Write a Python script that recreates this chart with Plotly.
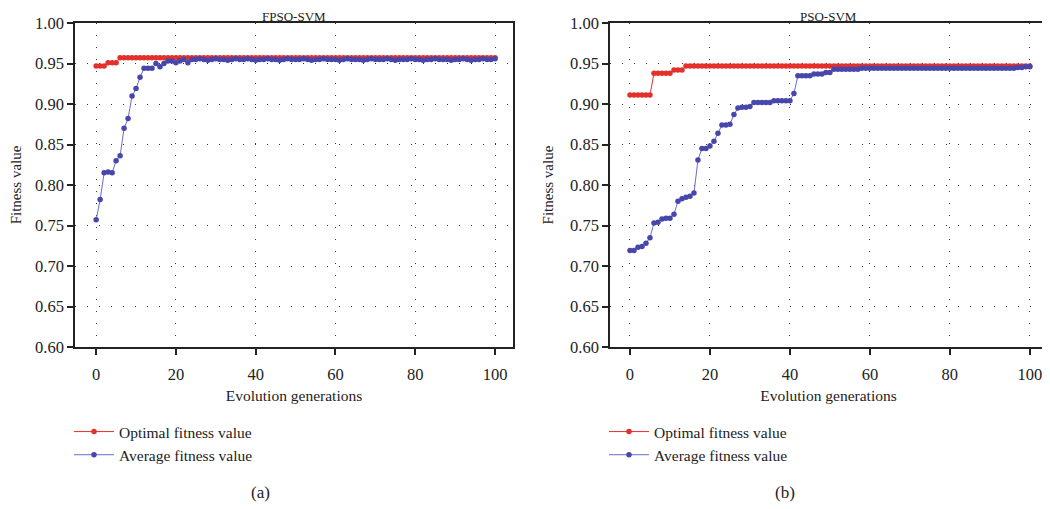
import plotly.graph_objects as go

gen = list(range(0, 101))

fpso_opt = [0.947, 0.947, 0.947, 0.951, 0.951, 0.951,
            0.957, 0.957, 0.957, 0.957, 0.957, 0.957, 0.957, 0.957, 0.957, 0.957,
            0.957, 0.957, 0.957, 0.957, 0.957, 0.957, 0.957, 0.957, 0.957, 0.957,
            0.957, 0.957, 0.957, 0.957, 0.957, 0.957, 0.957, 0.957, 0.957, 0.957,
            0.957, 0.957, 0.957, 0.957, 0.957, 0.957, 0.957, 0.957, 0.957, 0.957,
            0.957, 0.957, 0.957, 0.957, 0.957, 0.957, 0.957, 0.957, 0.957, 0.957,
            0.957, 0.957, 0.957, 0.957, 0.957, 0.957, 0.957, 0.957, 0.957, 0.957,
            0.957, 0.957, 0.957, 0.957, 0.957, 0.957, 0.957, 0.957, 0.957, 0.957,
            0.957, 0.957, 0.957, 0.957, 0.957, 0.957, 0.957, 0.957, 0.957, 0.957,
            0.957, 0.957, 0.957, 0.957, 0.957, 0.957, 0.957, 0.957, 0.957, 0.957,
            0.957, 0.957, 0.957, 0.957, 0.957]

fpso_avg = [0.757, 0.782, 0.815, 0.816, 0.815, 0.830, 0.836, 0.870, 0.882, 0.910,
            0.919, 0.933, 0.944, 0.944, 0.944, 0.950, 0.946, 0.950, 0.953, 0.953,
            0.951, 0.953, 0.955, 0.951, 0.955, 0.955, 0.956, 0.955, 0.954, 0.955,
            0.956, 0.955, 0.955, 0.954, 0.955, 0.956, 0.955, 0.955, 0.956, 0.955,
            0.954, 0.955, 0.955, 0.956, 0.955, 0.955, 0.954, 0.955, 0.956, 0.955,
            0.955, 0.955, 0.956, 0.955, 0.954, 0.955, 0.955, 0.956, 0.955, 0.955,
            0.955, 0.954, 0.955, 0.956, 0.955, 0.955, 0.955, 0.954, 0.955, 0.956,
            0.955, 0.955, 0.955, 0.956, 0.955, 0.954, 0.955, 0.955, 0.955, 0.956,
            0.955, 0.955, 0.954, 0.955, 0.955, 0.956, 0.955, 0.955, 0.955, 0.954,
            0.955, 0.955, 0.956, 0.955, 0.954, 0.955, 0.955, 0.956, 0.955, 0.955,
            0.956]

pso_opt = [0.911, 0.911, 0.911, 0.911, 0.911, 0.911,
           0.938, 0.938, 0.938, 0.938, 0.938,
           0.942, 0.942, 0.942,
           0.947, 0.947, 0.947, 0.947, 0.947, 0.947, 0.947, 0.947, 0.947, 0.947,
           0.947, 0.947, 0.947, 0.947, 0.947, 0.947, 0.947, 0.947, 0.947, 0.947,
           0.947, 0.947, 0.947, 0.947, 0.947, 0.947, 0.947, 0.947, 0.947, 0.947,
           0.947, 0.947, 0.947, 0.947, 0.947, 0.947, 0.947, 0.947, 0.947, 0.947,
           0.947, 0.947, 0.947, 0.947, 0.947, 0.947, 0.947, 0.947, 0.947, 0.947,
           0.947, 0.947, 0.947, 0.947, 0.947, 0.947, 0.947, 0.947, 0.947, 0.947,
           0.947, 0.947, 0.947, 0.947, 0.947, 0.947, 0.947, 0.947, 0.947, 0.947,
           0.947, 0.947, 0.947, 0.947, 0.947, 0.947, 0.947, 0.947, 0.947, 0.947,
           0.947, 0.947, 0.947, 0.947, 0.947, 0.947, 0.947]

pso_avg = [0.719, 0.719, 0.723, 0.724, 0.728, 0.735, 0.753, 0.754, 0.758, 0.759,
           0.759, 0.764, 0.780, 0.783, 0.785, 0.786, 0.790, 0.831, 0.845, 0.845,
           0.848, 0.854, 0.864, 0.874, 0.874, 0.875, 0.887, 0.895, 0.896, 0.896,
           0.897, 0.902, 0.902, 0.902, 0.902, 0.902, 0.904, 0.904, 0.904, 0.904,
           0.904, 0.913, 0.935, 0.935, 0.935, 0.935, 0.937, 0.937, 0.937, 0.939,
           0.939, 0.943, 0.943, 0.943, 0.943, 0.943, 0.943, 0.943, 0.944, 0.944,
           0.944, 0.944, 0.944, 0.944, 0.944, 0.944, 0.944, 0.944, 0.944, 0.944,
           0.944, 0.944, 0.944, 0.944, 0.944, 0.944, 0.944, 0.944, 0.944, 0.944,
           0.944, 0.944, 0.944, 0.944, 0.944, 0.944, 0.944, 0.944, 0.944, 0.944,
           0.944, 0.944, 0.944, 0.944, 0.944, 0.944, 0.944, 0.945, 0.945, 0.946,
           0.946]

y_ticks = [0.60, 0.65, 0.70, 0.75, 0.80, 0.85, 0.90, 0.95, 1.00]
x_ticks = [0, 20, 40, 60, 80, 100]

RED = "#e3302b"
BLUE = "#4646ad"
BLUE_LINE = "#6b6bcc"
FONT = "Liberation Serif"

# page body has an 8px margin; figure sized to fill the rest of the window
OFF = 8
W, H = 1042, 501


def px(x):
    return (x - OFF) / W


def py(y):
    return 1 - (y - OFF) / H


fig = go.Figure()


def add_pair(opt, avg, xa, ya, legend):
    fig.add_trace(go.Scatter(x=gen, y=opt, mode="lines+markers", name="Optimal fitness value",
                             line=dict(color=RED, width=1), marker=dict(color=RED, size=5.5),
                             xaxis=xa, yaxis=ya, legend=legend))
    fig.add_trace(go.Scatter(x=gen, y=avg, mode="lines+markers", name="Average fitness value",
                             line=dict(color=BLUE_LINE, width=1), marker=dict(color=BLUE, size=5.5),
                             xaxis=xa, yaxis=ya, legend=legend))


add_pair(fpso_opt, fpso_avg, "x", "y", "legend")
add_pair(pso_opt, pso_avg, "x2", "y2", "legend2")

ydom = [py(347), py(23)]

axis_common = dict(showline=True, linecolor="#222", linewidth=1.5, mirror=True,
                   ticks="outside", ticklen=6, tickwidth=1.5, tickcolor="#222",
                   showgrid=True, gridcolor="#333", gridwidth=1, griddash="1px,11px",
                   zeroline=False, automargin=False,
                   tickfont=dict(family=FONT, size=16.5, color="#222"))

xtitle = dict(text="Evolution generations", font=dict(family=FONT, size=15.5, color="#222"), standoff=8)
ytitle = dict(text="Fitness value", font=dict(family=FONT, size=15, color="#222"), standoff=13)

fig.update_layout(
    width=W, height=H, margin=dict(l=0, r=0, t=0, b=0, autoexpand=False),
    plot_bgcolor="white", paper_bgcolor="white",
    font=dict(family=FONT, size=14, color="#222"),
    xaxis=dict(domain=[px(75), px(513)], range=[-5.3, 104.5], tickvals=x_ticks, anchor="y",
               title=xtitle, ticklabelstandoff=5, **axis_common),
    yaxis=dict(domain=ydom, range=[0.6, 1.0], tickvals=y_ticks, tickformat=".2f", anchor="x",
               title=ytitle, **axis_common),
    xaxis2=dict(domain=[px(610), px(1047)], range=[-5, 104.3], tickvals=x_ticks, anchor="y2",
                title=xtitle, ticklabelstandoff=5, **axis_common),
    yaxis2=dict(domain=ydom, range=[0.6, 1.0], tickvals=y_ticks, tickformat=".2f", anchor="x2",
                title=ytitle, **axis_common),
    legend=dict(x=px(69), y=py(415), xanchor="left", yanchor="top",
                font=dict(family=FONT, size=15.5, color="#222"), bgcolor="rgba(0,0,0,0)",
                tracegroupgap=0, itemwidth=40),
    legend2=dict(x=px(604), y=py(415), xanchor="left", yanchor="top",
                 font=dict(family=FONT, size=15.5, color="#222"), bgcolor="rgba(0,0,0,0)",
                 tracegroupgap=0, itemwidth=40),
    showlegend=True,
    annotations=[
        dict(text="FPSO-SVM", x=px(294), y=1.0, xref="paper", yref="paper",
             xanchor="center", yanchor="top", borderpad=0,
             showarrow=False, font=dict(family=FONT, size=13, color="#222")),
        dict(text="PSO-SVM", x=px(828), y=1.0, xref="paper", yref="paper",
             xanchor="center", yanchor="top", borderpad=0,
             showarrow=False, font=dict(family=FONT, size=13, color="#222")),
        dict(text="(a)", x=px(260), y=py(492), xref="paper", yref="paper",
             xanchor="center", yanchor="middle",
             showarrow=False, font=dict(family=FONT, size=17, color="#222")),
        dict(text="(b)", x=px(785), y=py(492), xref="paper", yref="paper",
             xanchor="center", yanchor="middle",
             showarrow=False, font=dict(family=FONT, size=17, color="#222")),
    ],
)

fig.write_html("out.html")
